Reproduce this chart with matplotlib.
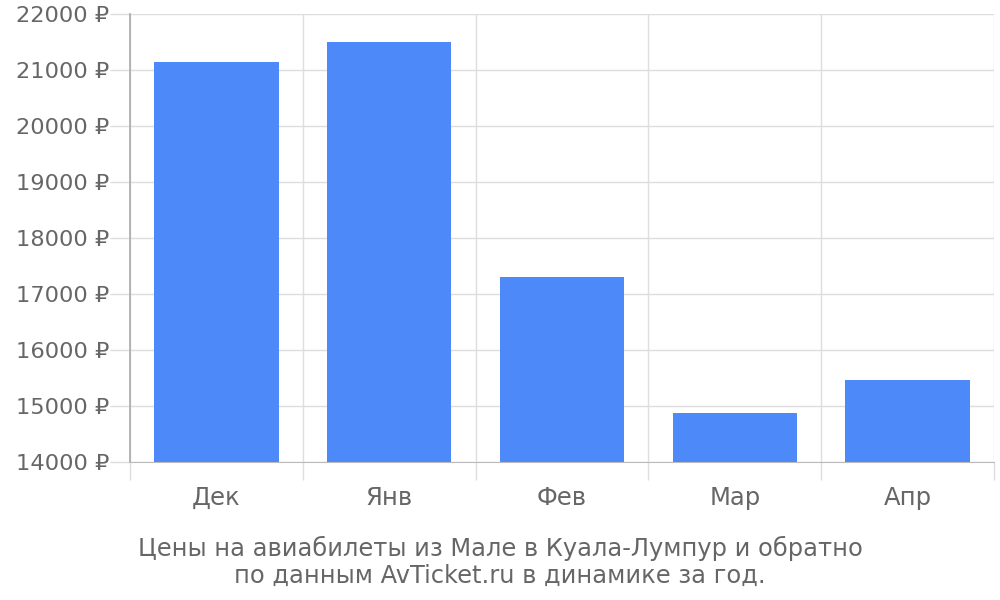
import matplotlib
matplotlib.use("Agg")
import matplotlib.pyplot as plt
import numpy as np

categories = ["Дек", "Янв", "Фев", "Мар", "Апр"]
prices = [21140, 21500, 17300, 14870, 15460]
yticks = [14000, 15000, 16000, 17000, 18000, 19000, 20000, 21000, 22000]
ytick_labels = [f"{v} ₽" for v in yticks]
title_lines = ["Цены на авиабилеты из Мале в Куала-Лумпур и обратно",
               "по данным AvTicket.ru в динамике за год."]

text_color = "#666666"
grid_color = "#dddddd"
bar_color = "#4d89f9"

fig = plt.figure(figsize=(10, 6), dpi=100)
ax = fig.add_axes([0.13, 0.23, 0.864, 0.7467])

x = np.arange(len(categories))
ax.bar(x, prices, width=0.72, color=bar_color, zorder=3)

ax.set_xlim(-0.5, len(categories) - 0.5)
ax.set_ylim(14000, 22000)

ax.set_yticks(yticks)
ax.set_yticklabels(ytick_labels)
ax.set_xticks(x)
ax.set_xticklabels(categories)
ax.set_xticks(np.arange(-0.5, len(categories)), minor=True)

ax.tick_params(axis="y", which="major", length=14.4, width=1, color=grid_color,
               labelsize=16.2, labelcolor=text_color, pad=0.5)
ax.tick_params(axis="x", which="major", length=0, labelsize=17.5,
               labelcolor=text_color, pad=17)
ax.tick_params(axis="x", which="minor", length=13, width=1, color=grid_color)

minor_ticks = ax.xaxis.get_minor_ticks()
minor_ticks[0].tick1line.set_color("#aaaaaa")

ax.grid(axis="y", which="major", color=grid_color, linewidth=1, zorder=0)
ax.grid(axis="x", which="minor", color=grid_color, linewidth=1, zorder=0)

for s in ["top", "right"]:
    ax.spines[s].set_visible(False)
ax.spines["left"].set_color("#aaaaaa")
ax.spines["left"].set_linewidth(1.2)
ax.spines["bottom"].set_color("#bbbbbb")
ax.set_axisbelow(True)

fig.text(0.5, 1 - 548 / 600, title_lines[0], ha="center", va="center",
         fontsize=17.4, color=text_color)
fig.text(0.5, 1 - 576 / 600, title_lines[1], ha="center", va="center",
         fontsize=17.4, color=text_color)

fig.savefig("out.png", dpi=100)
